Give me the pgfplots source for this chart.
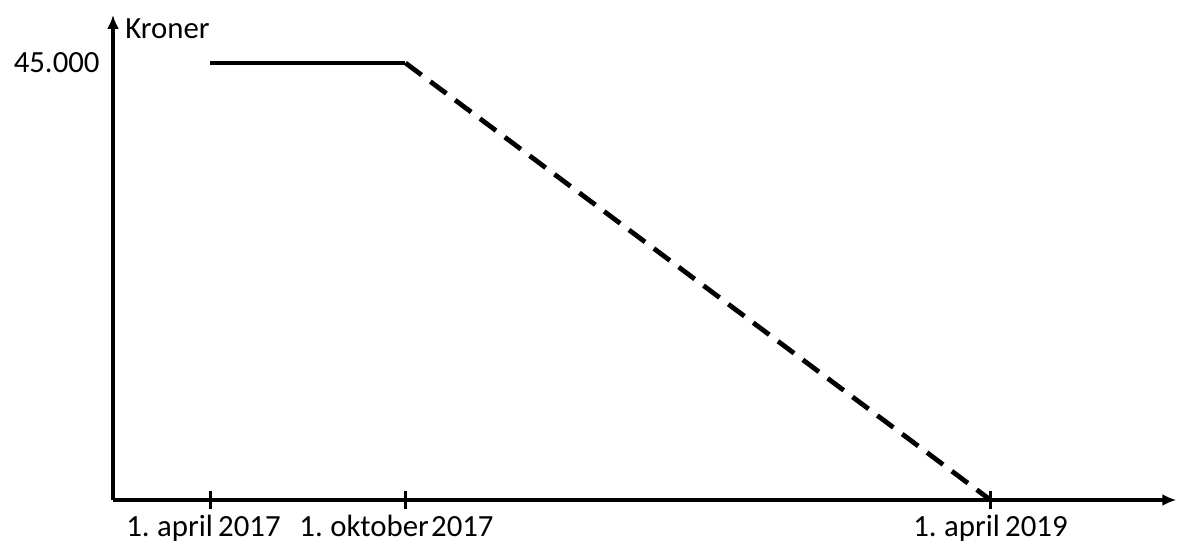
\documentclass[border=0pt]{standalone}
\usepackage{pgfplots}
\pgfplotsset{compat=1.18}
\usetikzlibrary{arrows.meta}
\usepackage{fontspec}
\setmainfont{Carlito}
\newcommand{\lbl}{\fontsize{15.4pt}{18pt}\selectfont\spaceskip=0.17em\relax}
\begin{document}
\lbl
\begin{tikzpicture}
\begin{axis}[
    scale only axis,
    width=531.7pt, height=242.5pt,
    xmin=-3, xmax=29.72,
    ymin=0, ymax=49943,
    scaled ticks=false,
    axis x line=bottom, axis y line=left,
    axis line style={line width=2.2pt, -{Latex[length=7pt,width=6pt]}},
    xtick={0,6,24},
    xticklabels={\hspace*{-7pt}1. april 2017, \hspace*{-9pt}1. oktober\hspace{-1.5pt} 2017, 1. april 2019},
    ytick={45000},
    yticklabels={45.000},
    x tick style={line width=1.8pt, black},
    xtick align=center,
    major tick length=9pt,
    y tick style={draw=none},
    xticklabel style={inner sep=0pt, yshift=-3pt, anchor=north},
    yticklabel style={inner sep=0pt, xshift=-2pt, anchor=east},
    tick label style={font=\lbl},
    clip=false,
]
\addplot[black, line width=2.2pt] coordinates {(0,45000) (6,45000)};
\addplot[black, line width=2.4pt, dash pattern=on 10pt off 5.5pt] coordinates {(6,45000) (24,0)};
\node[anchor=base west, inner sep=0pt, font=\lbl] at (rel axis cs:0,0.952) [xshift=6pt] {Kroner};
\end{axis}
\path (-56.5pt,-19.5pt) rectangle (533.5pt,250pt);
\end{tikzpicture}
\end{document}
